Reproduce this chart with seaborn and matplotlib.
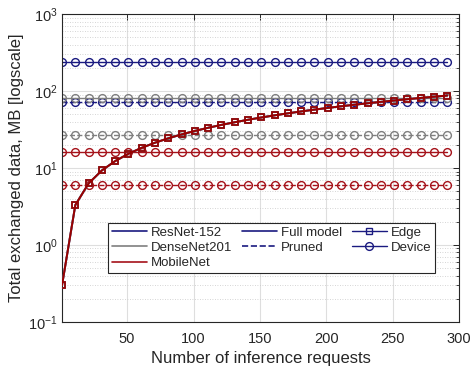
import matplotlib
matplotlib.use("Agg")
import matplotlib.pyplot as plt
from matplotlib.lines import Line2D
from matplotlib.ticker import LogLocator, NullFormatter, FixedLocator
import seaborn as sns
import pandas as pd

# ---- data ----
requests = [1, 11, 21, 31, 41, 51, 61, 71, 81, 91, 101, 111, 121, 131, 141,
            151, 161, 171, 181, 191, 201, 211, 221, 231, 241, 251, 261, 271, 281, 291]
edge_mb = [0.3, 3.3, 6.3, 9.3, 12.3, 15.3, 18.3, 21.3, 24.3, 27.3, 30.3, 33.3,
           36.3, 39.3, 42.3, 45.3, 48.3, 51.3, 54.3, 57.3, 60.3, 63.3, 66.3,
           69.3, 72.3, 75.3, 78.3, 81.3, 84.3, 87.3]
models = ["ResNet-152", "DenseNet201", "MobileNet"]
device_full_mb = [236, 81, 16.0]
device_pruned_mb = [71, 26.5, 6.0]
x_ticks = [50, 100, 150, 200, 250, 300]

colors = {"ResNet-152": "#1a1a80", "DenseNet201": "#7f7f7f", "MobileNet": "#a5121a"}
edge_colors = {"ResNet-152": "#1a1a80", "DenseNet201": "#7f7f7f", "MobileNet": "#990000"}
navy = "#1a1a80"

sns.set_theme(style="white")
plt.rcParams["font.family"] = ["Liberation Sans", "DejaVu Sans"]

fig = plt.figure(figsize=(4.7, 3.7), dpi=100)
ax = fig.add_axes([0.132, 0.130, 0.845, 0.832])

n = len(requests)
# device lines
for m, full, pr in zip(models, device_full_mb, device_pruned_mb):
    c = colors[m]
    d_full = pd.DataFrame({"x": requests, "y": [full] * n})
    d_pr = pd.DataFrame({"x": requests, "y": [pr] * n})
    sns.lineplot(data=d_full, x="x", y="y", ax=ax, color=c, linewidth=1.0,
                 marker="o", markersize=5.6, markerfacecolor="none",
                 markeredgecolor=c, markeredgewidth=1.0, zorder=2)
    sns.lineplot(data=d_pr, x="x", y="y", ax=ax, color=c, linewidth=1.0,
                 linestyle="--", marker="o", markersize=5.6, markerfacecolor="none",
                 markeredgecolor=c, markeredgewidth=1.0, zorder=2)

# edge lines (identical for all models; MobileNet drawn on top)
for m in models:
    c = edge_colors[m]
    d_e = pd.DataFrame({"x": requests, "y": edge_mb})
    sns.lineplot(data=d_e, x="x", y="y", ax=ax, color=c, linewidth=1.4,
                 marker="s", markersize=4.6, markerfacecolor="none",
                 markeredgecolor=c, markeredgewidth=1.2, zorder=3)

ax.set_yscale("log")
ax.set_ylim(0.1, 1000)
ax.set_xlim(1, 300)
ax.xaxis.set_major_locator(FixedLocator(x_ticks))
ax.yaxis.set_major_locator(LogLocator(base=10, numticks=10))
ax.yaxis.set_minor_locator(LogLocator(base=10, subs=range(2, 10), numticks=20))
ax.yaxis.set_minor_formatter(NullFormatter())

ax.grid(True, which="major", axis="both", color="#dedede", linewidth=0.8, linestyle="-")
ax.grid(True, which="minor", axis="y", color="#c8c8c8", linewidth=0.6, linestyle=(0, (1, 2)))
ax.set_axisbelow(True)

for s in ax.spines.values():
    s.set_color("#262626")
    s.set_linewidth(0.8)
ax.tick_params(which="both", direction="in", top=True, right=True,
               colors="#262626", labelsize=10.5)
ax.tick_params(which="major", length=4, width=0.7)
ax.tick_params(which="minor", length=2, width=0.6)
ax.tick_params(axis="x", pad=7)
ax.tick_params(axis="y", pad=3)

ax.set_xlabel("Number of inference requests", fontsize=12, color="#262626", labelpad=4)
ax.set_ylabel("Total exchanged data, MB [logscale]", fontsize=12, color="#262626", labelpad=3)

blank = Line2D([], [], linestyle="none", marker=None)
handles = [
    Line2D([], [], color=colors["ResNet-152"], lw=1.2),
    Line2D([], [], color=colors["DenseNet201"], lw=1.2),
    Line2D([], [], color=colors["MobileNet"], lw=1.2),
    Line2D([], [], color=navy, lw=1.2),
    Line2D([], [], color=navy, lw=1.2, linestyle="--"),
    blank,
    Line2D([], [], color=navy, lw=1.0, marker="s", markersize=4.6,
           markerfacecolor="none", markeredgecolor=navy),
    Line2D([], [], color=navy, lw=1.0, marker="o", markersize=5.6,
           markerfacecolor="none", markeredgecolor=navy),
    blank,
]
labels = ["ResNet-152", "DenseNet201", "MobileNet", "Full model", "Pruned", "",
          "Edge", "Device", ""]
leg = ax.legend(handles, labels, ncol=3, loc="lower left",
                bbox_to_anchor=(0.116, 0.159), fontsize=9.5, frameon=True,
                fancybox=False, edgecolor="#262626", framealpha=1,
                handlelength=2.65, handletextpad=0.3, columnspacing=0.75,
                labelspacing=0.23, borderpad=0.28, borderaxespad=0)
leg.get_frame().set_linewidth(0.8)
for t in leg.get_texts():
    t.set_color("#262626")

fig.savefig("out.png", dpi=100)
